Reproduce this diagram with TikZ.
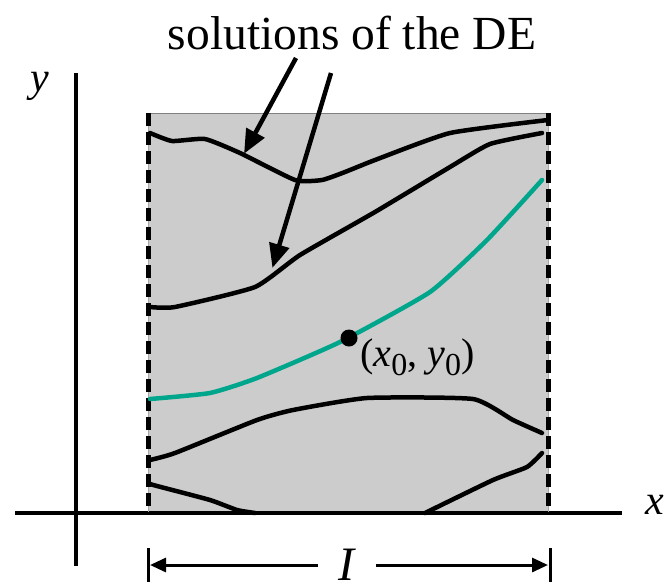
\documentclass[tikz,border=0pt]{standalone}
\usepackage{fontspec}
\setmainfont{Liberation Serif}
\usetikzlibrary{arrows.meta}
\definecolor{regiongray}{RGB}{204,204,204}
\definecolor{teal1}{RGB}{0,166,140}
\tikzset{
  sol/.style={line width=4.5pt, line join=round, line cap=round},
  ptr/.style={line width=4.5pt, -{Triangle[length=24pt,width=20pt]}, shorten >=-2pt},
  dimarrow/.style={line width=3pt, -{Triangle[length=16pt,width=14pt]}},
  axis/.style={line width=4.5pt},
  dashedge/.style={line width=5pt, dash pattern=on 13pt off 6pt},
  bigtext/.style={font=\fontsize{44}{52}\selectfont, inner sep=0pt},
}
\begin{document}
\begin{tikzpicture}[x=1pt,y=-1pt]
\useasboundingbox (0,0) rectangle (664,582);
% region
\fill[regiongray] (148,113) rectangle (548,513);
\draw[gray, line width=1pt] (148,113) -- (548,113);
% axes
\draw[axis] (15,513) -- (622,513);
\draw[axis] (76,73) -- (76,566);
\node[bigtext, font=\fontsize{42}{48}\selectfont\itshape] (ylab) at (40,86) {y};
\node[bigtext, font=\fontsize{42}{48}\selectfont\itshape] (xlab) at (655,505) {x};
% dashed edges
\coordinate (lt) at (148,113); \coordinate (lb) at (148,513);
\coordinate (rt) at (548,113); \coordinate (rb) at (548,513);
\draw[gray!70, line width=1pt] (lt) -- (lb);
\draw[gray!70, line width=1pt] (rt) -- (rb);
\draw[dashedge] (lt) -- (lb);
\draw[dashedge] (rt) -- (rb);
% solution curves
\draw[sol] plot[smooth, tension=0.3] coordinates {(150,133) (172,141) (205,139) (240,153) (295,180) (322,180) (345,172) (375,160) (450,133) (548,120)};
\draw[sol] plot[smooth, tension=0.3] coordinates {(150,307) (175,307) (255,287) (300,255) (375,212) (450,167) (490,144) (542,133)};
\draw[sol] plot[smooth, tension=0.3] coordinates {(150,460) (175,453) (257,420) (293,410) (367,398) (473,399) (513,420) (542,433)};
\draw[sol] plot[smooth, tension=0.3] coordinates {(150,484) (157,486) (210,500) (237,510) (255,513)};
\draw[sol] plot[smooth, tension=0.3] coordinates {(425,513) (493,480) (527,467) (542,453)};
\draw[sol, teal1] plot[smooth, tension=0.3] coordinates {(150,399) (210,393) (257,378) (340,342) (430,292) (487,240) (542,180)};
% point
\node[circle, fill=black, inner sep=0pt, minimum size=17pt] (p0) at (349,338) {};
\node[font=\fontsize{40}{46}\selectfont, inner sep=0pt, anchor=north west] (plab) at (360,339)
  {(\textit{x}\raisebox{-0.45ex}{\fontsize{32}{36}\selectfont 0}, \textit{y}\raisebox{-0.45ex}{\fontsize{32}{36}\selectfont 0})};
% title and pointers
\node[bigtext, font=\fontsize{47.5}{54}\selectfont] (title) at (352,33) {solutions of the DE};
\coordinate (a1s) at (296,58); \coordinate (a1e) at (245,152);
\coordinate (a2s) at (331,73); \coordinate (a2e) at (273,266);
\draw[ptr] (a1s) -- (a1e);
\draw[ptr] (a2s) -- (a2e);
% interval I
\coordinate (bl1) at (148,548); \coordinate (bl2) at (148,582);
\coordinate (br1) at (550,548); \coordinate (br2) at (550,582);
\draw[line width=3pt] (bl1) -- (bl2);
\draw[line width=3pt] (br1) -- (br2);
\node[font=\fontsize{48}{56}\selectfont\itshape, inner sep=0pt] (ilab) at (346,565) {I};
\coordinate (il) at (150,565); \coordinate (ir) at (548,565);
\coordinate (ilm) at (318,565); \coordinate (irm) at (376,565);
\draw[dimarrow] (ilm) -- (il);
\draw[dimarrow] (irm) -- (ir);
\end{tikzpicture}
\end{document}
